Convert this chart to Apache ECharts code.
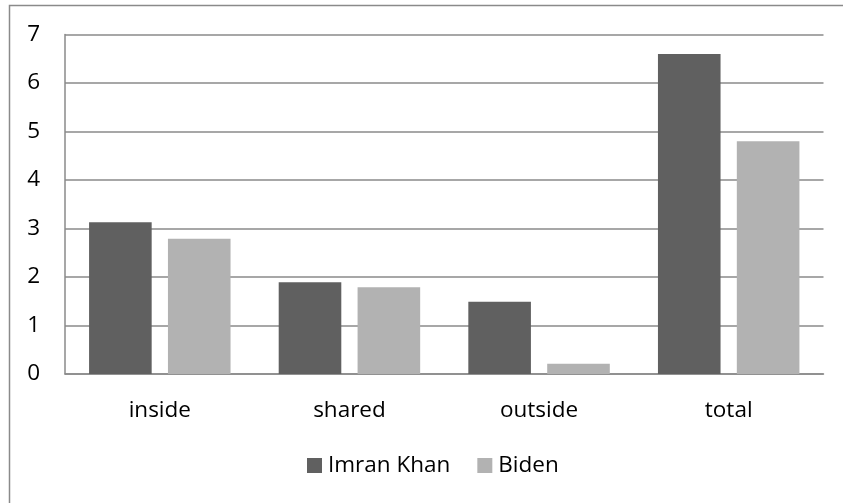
<!DOCTYPE html>
<html><head><meta charset="utf-8">
<script src="https://cdn.jsdelivr.net/npm/echarts@6/dist/echarts.min.js"></script>
<style>html,body{margin:0;padding:0;background:#fff}#c{width:843px;height:503px}</style>
</head><body><div id="c"></div>
<script>
const categories = ['inside', 'shared', 'outside', 'total'];
const imranKhan = [3.13, 1.89, 1.49, 6.6];
const biden = [2.79, 1.79, 0.21, 4.8];
const seriesNames = ['Imran Khan', 'Biden'];

const FONT = 'Open Sans';
const FS = 22.5;
const chart = echarts.init(document.getElementById('c'), null, {renderer: 'canvas'});
chart.setOption({
  animation: false,
  backgroundColor: '#fff',
  textStyle: {fontFamily: FONT},
  graphic: [{
    type: 'rect', silent: true,
    shape: {x: 9.5, y: 5.5, width: 900, height: 600},
    style: {fill: 'none', stroke: '#8a8a8a', lineWidth: 1.5}
  }],
  grid: {left: 65, top: 34.5, right: 19.5, bottom: 129, containLabel: false},
  legend: {
    data: seriesNames,
    bottom: 21,
    left: 302,
    itemWidth: 15, itemHeight: 15, itemGap: 27,
    icon: 'rect',
    textStyle: {fontFamily: FONT, fontSize: FS, color: '#000', padding: [0, 0, 0, 1]}
  },
  xAxis: {
    type: 'category', data: categories,
    axisLine: {show: true, lineStyle: {color: '#8a8a8a', width: 1.5}},
    axisTick: {show: false},
    axisLabel: {fontFamily: FONT, fontSize: FS, color: '#000', margin: 25}
  },
  yAxis: {
    type: 'value', min: 0, max: 7, interval: 1,
    axisLine: {show: true, lineStyle: {color: '#8a8a8a', width: 1.5}},
    axisTick: {show: false},
    splitLine: {lineStyle: {color: '#8a8a8a', width: 1.5}},
    axisLabel: {fontFamily: FONT, fontSize: FS, color: '#000', margin: 25}
  },
  series: [
    {name: seriesNames[0], type: 'bar', data: imranKhan, barWidth: 62.6, barGap: '26%',
     itemStyle: {color: '#606060'}},
    {name: seriesNames[1], type: 'bar', data: biden, barWidth: 62.6, barGap: '26%',
     itemStyle: {color: '#b2b2b2'}}
  ]
});
</script></body></html>
